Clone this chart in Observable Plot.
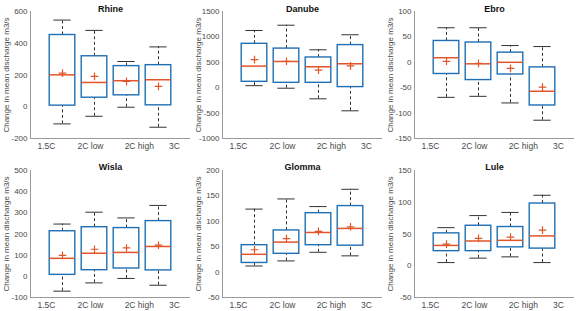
<!DOCTYPE html>
<html>
<head>
<meta charset="utf-8">
<script src="https://cdn.jsdelivr.net/npm/d3@7"></script>
<script src="https://cdn.jsdelivr.net/npm/@observablehq/plot@0.6"></script>
<style>
  html, body { margin: 0; padding: 0; background: #fff; }
  #grid { display: flex; flex-wrap: wrap; width: 576px; }
  #grid > svg { display: block; }
</style>
</head>
<body>
<div id="grid"></div>
<script>
// ---- data ----
const rivers = ["Rhine", "Danube", "Ebro", "Wisla", "Glomma", "Lule"];
const scenarios = ["1.5C", "2C low", "2C high", "3C"];
// tick label positions (MATLAB-style offset labels) on the x axis
const tickPos = [0.5, 1.875, 3.4, 4.5];

const whiskerLow = [
  [-108, -60, -3, -129],
  [40, -10, -219, -455],
  [-69, -67, -80, -114],
  [-70, -31, -10, -42],
  [12, 22, 39, 32],
  [5, 12, 14, 5]
];
const q1 = [
  [7, 57, 72, 9],
  [116, 96, 96, 12],
  [-23, -35, -24, -85],
  [7, 29, 37, 28],
  [18, 36, 53, 52],
  [23, 23, 29, 27]
];
const median = [
  [201, 153, 164, 170],
  [425, 516, 412, 471],
  [9, -3, 0, -57],
  [85, 109, 113, 141],
  [35, 59, 78, 86],
  [32, 39, 40, 47]
];
const q3 = [
  [452, 318, 256, 262],
  [864, 770, 595, 839],
  [42, 39, 19, -10],
  [213, 232, 228, 261],
  [53, 82, 116, 130],
  [51, 63, 61, 98]
];
const whiskerHigh = [
  [546, 481, 285, 377],
  [1126, 1230, 746, 1042],
  [68, 68, 33, 31],
  [247, 303, 276, 335],
  [124, 144, 129, 163],
  [60, 79, 84, 111]
];
const meanVal = [
  [212, 191, 160, 128],
  [553, 521, 347, 431],
  [2, -2, -12, -49],
  [99, 128, 134, 147],
  [44, 66, 80, 89],
  [34, 43, 45, 56]
];
const yMin = [-200, -1000, -150, -100, -50, -50];
const yMax = [600, 1500, 100, 500, 200, 150];
const yStep = [200, 500, 50, 100, 50, 50];
const yLabel = "Change in mean discharge m3/s";

// ---- styles ----
const BLUE = "#1f6fb4";
const ORANGE = "#e0552a";
const AXIS = "#9a9a9a";
const TICKTXT = "#4a4a4a";
const FONT = "Liberation Sans, Arial, sans-serif";

function panel(r) {
  const top = r < 3;
  const data = scenarios.map((s, i) => ({
    s, x: i + 1,
    lo: whiskerLow[r][i], q1: q1[r][i], med: median[r][i],
    q3: q3[r][i], hi: whiskerHigh[r][i], mean: meanVal[r][i]
  }));
  const ticks = d3.range(yMin[r], yMax[r] + 1e-9, yStep[r]);
  const bw = 0.4, cw = 0.27;
  return Plot.plot({
    width: 192,
    height: top ? 155 : 156,
    marginLeft: 30,
    marginRight: 2,
    marginTop: top ? 11 : 15,
    marginBottom: top ? 17 : 14,
    style: { fontFamily: FONT, background: "white", overflow: "visible" },
    x: { domain: [0, 5] },
    y: { domain: [yMin[r], yMax[r]] },
    marks: [
      // axes
      Plot.axisY({ ticks, tickFormat: d => String(d), tickSize: 0, tickPadding: 3, fontSize: 8, color: TICKTXT,
        label: yLabel, labelAnchor: "center", labelArrow: "none", labelOffset: 27 }),
      Plot.axisX({ ticks: tickPos, tickFormat: (d, i) => scenarios[i], tickSize: 0, tickPadding: 4, fontSize: 8.5, color: TICKTXT, label: null }),
      Plot.ruleX([0], { stroke: AXIS, strokeWidth: 1 }),
      Plot.ruleY([yMin[r]], { stroke: AXIS, strokeWidth: 1 }),
      // whiskers
      Plot.ruleX(data, { x: "x", y1: "q3", y2: "hi", stroke: "#333", strokeWidth: 1, strokeDasharray: "3,2.5" }),
      Plot.ruleX(data, { x: "x", y1: "lo", y2: "q1", stroke: "#333", strokeWidth: 1, strokeDasharray: "3,2.5" }),
      Plot.ruleY(data, { y: "hi", x1: d => d.x - cw, x2: d => d.x + cw, stroke: "#333", strokeWidth: 1 }),
      Plot.ruleY(data, { y: "lo", x1: d => d.x - cw, x2: d => d.x + cw, stroke: "#333", strokeWidth: 1 }),
      // box
      Plot.rect(data, { x1: d => d.x - bw, x2: d => d.x + bw, y1: "q1", y2: "q3", fill: "white", stroke: BLUE, strokeWidth: 1.4 }),
      // median
      Plot.ruleY(data, { y: "med", x1: d => d.x - bw, x2: d => d.x + bw, stroke: ORANGE, strokeWidth: 1.5 }),
      // mean
      Plot.dot(data, { x: "x", y: "mean", symbol: "plus", r: 2.6, stroke: ORANGE, strokeWidth: 1.2 }),
      // title
      Plot.text([rivers[r]], { frameAnchor: "top", dy: top ? -6 : -7, fontWeight: "bold", fontSize: 9, fill: "#111" })
    ]
  });
}

const grid = document.getElementById("grid");
rivers.forEach((_, r) => grid.appendChild(panel(r)));
</script>
</body>
</html>
